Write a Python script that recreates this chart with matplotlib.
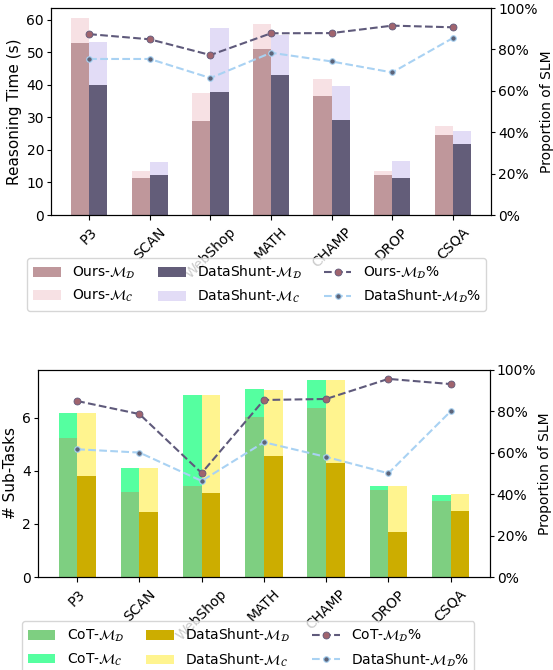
import matplotlib
matplotlib.use("Agg")
import matplotlib.pyplot as plt
import numpy as np
from matplotlib.ticker import FuncFormatter

categories = ["P3", "SCAN", "WebShop", "MATH", "CHAMP", "DROP", "CSQA"]

# Top chart: reasoning time (s)
ours_total = [60.5, 13.5, 37.5, 58.5, 41.8, 13.5, 27.4]
ours_d = [52.9, 11.4, 28.9, 51.1, 36.6, 12.3, 24.6]
ds_total = [53.2, 16.3, 57.5, 55.1, 39.7, 16.6, 25.8]
ds_d = [40.0, 12.3, 37.8, 43.1, 29.2, 11.4, 21.8]
ours_pct = [87.4, 84.9, 77.3, 87.8, 87.9, 91.5, 90.7]
ds_pct = [75.4, 75.4, 66.2, 78.4, 74.2, 68.9, 85.5]

# Bottom chart: number of sub-tasks
cot_total = [6.19, 4.11, 6.87, 7.09, 7.43, 3.43, 3.09]
cot_d = [5.25, 3.21, 3.43, 6.04, 6.38, 3.28, 2.87]
ds2_total = [6.19, 4.11, 6.87, 7.06, 7.43, 3.43, 3.13]
ds2_d = [3.81, 2.45, 3.17, 4.57, 4.30, 1.70, 2.49]
cot_pct = [85.0, 78.7, 50.2, 85.5, 86.0, 95.7, 93.2]
ds2_pct = [61.7, 60.1, 46.4, 65.1, 58.0, 50.1, 80.0]

FS = 10
plt.rcParams['font.size'] = FS
plt.rcParams['ytick.major.pad'] = 2.0
plt.rcParams['ytick.major.size'] = 3.0

fig = plt.figure(figsize=(5.53, 6.70), dpi=100)
pct_fmt = FuncFormatter(lambda v, p: f"{int(round(v))}%")
w = 0.3
x = np.arange(len(categories))


def panel(rect, totA, dA, totB, dB, pctA, pctB, colors, labels, ylabel, legend_anchor):
    ax = fig.add_axes(rect)
    cAd, cAc, cBd, cBc = colors
    cA = [t - d for t, d in zip(totA, dA)]
    cB = [t - d for t, d in zip(totB, dB)]
    hAd = ax.bar(x - w / 2, dA, w, color=cAd, label=labels[0])
    hAc = ax.bar(x - w / 2, cA, w, bottom=dA, color=cAc, label=labels[1])
    hBd = ax.bar(x + w / 2, dB, w, color=cBd, label=labels[2])
    hBc = ax.bar(x + w / 2, cB, w, bottom=dB, color=cBc, label=labels[3])
    ax.set_xticks(x)
    ax.set_xticklabels(categories, rotation=45)
    ax.set_ylabel(ylabel, fontsize=11, labelpad=3)
    ax2 = ax.twinx()
    lA, = ax2.plot(x, pctA, linestyle='--', color='#5f5a7b', linewidth=1.5,
                   marker='o', markersize=5, markerfacecolor='#a0646e',
                   markeredgecolor='#5f5a7b', markeredgewidth=0.6, label=labels[4])
    lB, = ax2.plot(x, pctB, linestyle='--', color='#a9d2f3', linewidth=1.5,
                   marker='o', markersize=4, markerfacecolor='#5d6479',
                   markeredgecolor='#a9d2f3', markeredgewidth=0.8, label=labels[5])
    ax2.set_ylim(0, 100)
    ax2.set_yticks([0, 20, 40, 60, 80, 100])
    ax2.yaxis.set_major_formatter(pct_fmt)
    ax2.set_ylabel("Proportion of SLM", fontsize=10, labelpad=1.5)
    handles = [hAd, hAc, hBd, hBc, lA, lB]
    fig.legend(handles, [h.get_label() for h in handles], ncol=3,
               loc='upper center', bbox_to_anchor=legend_anchor, fontsize=FS,
               handlelength=2.0, columnspacing=1.6)
    return ax, ax2


panel([0.0922, 0.679, 0.7957, 0.309], ours_total, ours_d, ds_total, ds_d,
      ours_pct, ds_pct,
      ['#bf979b', '#f7e1e4', '#635d79', '#e2dcf6'],
      [r'Ours-$\mathcal{M}_\mathcal{D}$', r'Ours-$\mathcal{M}_\mathcal{C}$',
       r'DataShunt-$\mathcal{M}_\mathcal{D}$', r'DataShunt-$\mathcal{M}_\mathcal{C}$',
       r'Ours-$\mathcal{M}_\mathcal{D}$%', r'DataShunt-$\mathcal{M}_\mathcal{D}$%'],
      "Reasoning Time (s)", (0.464, 0.625))

panel([0.0687, 0.1388, 0.817, 0.309], cot_total, cot_d, ds2_total, ds2_d,
      cot_pct, ds2_pct,
      ['#7ecf81', '#55ffa0', '#ccad00', '#fff48f'],
      [r'CoT-$\mathcal{M}_\mathcal{D}$', r'CoT-$\mathcal{M}_\mathcal{C}$',
       r'DataShunt-$\mathcal{M}_\mathcal{D}$', r'DataShunt-$\mathcal{M}_\mathcal{C}$',
       r'CoT-$\mathcal{M}_\mathcal{D}$%', r'DataShunt-$\mathcal{M}_\mathcal{D}$%'],
      "# Sub-Tasks", (0.449, 0.083))

fig.savefig("out.png", dpi=100)
